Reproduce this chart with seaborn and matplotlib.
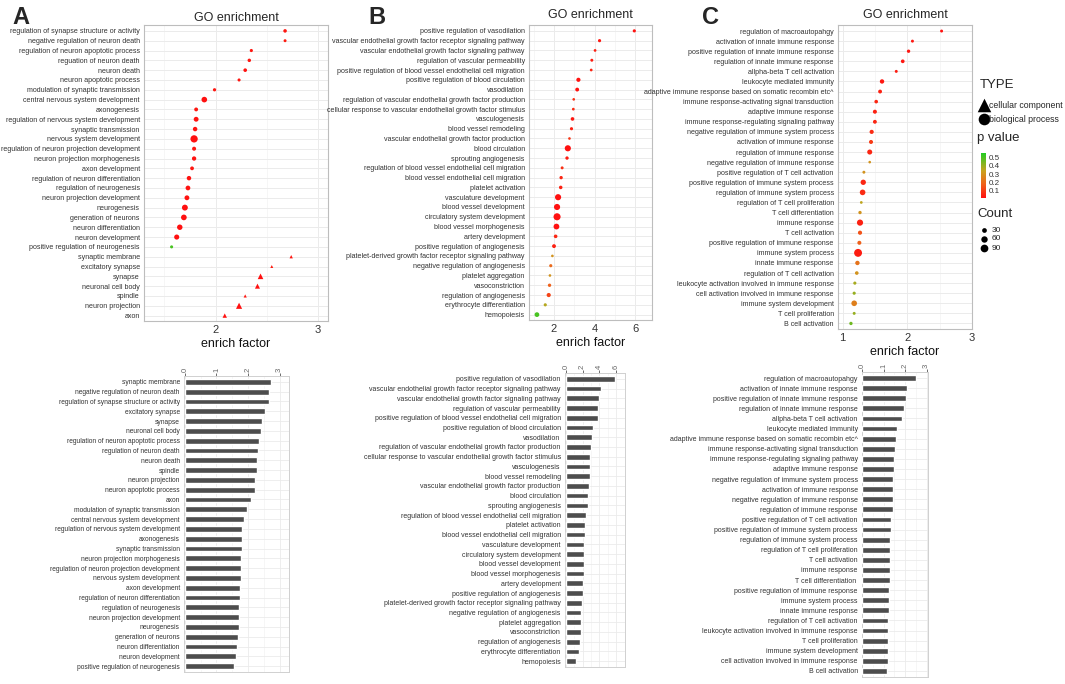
import numpy as np
import pandas as pd
import matplotlib
matplotlib.use("Agg")
import matplotlib.pyplot as plt
from matplotlib import font_manager
from matplotlib.colors import LinearSegmentedColormap, Normalize
from matplotlib.cm import ScalarMappable
import seaborn as sns

# ── panel A: neuro terms ─────────────────────────────────────────────────────
A_terms = [
    "regulation of synapse structure or activity", "negative regulation of neuron death",
    "regulation of neuron apoptotic process", "reguation of neuron death", "neuron death",
    "neuron apoptotic process", "modulation of synaptic transmission",
    "central nervous system development", "axonogenesis",
    "regulation of nervous system development", "synaptic transmission",
    "nervous system development", "regulation of neuron projection development",
    "neuron projection morphogenesis", "axon development",
    "regulation of neuron differentiation", "regulation of neurogenesis",
    "neuron projection development", "neurogenesis", "generation of neurons",
    "neuron differentiation", "neuron development", "positive regulation of neurogenesis",
    "synaptic membrane", "excitatory synapse", "synapse", "neuronal cell body", "spindle",
    "neuron projection", "axon"]
A_factor = [2.68, 2.68, 2.35, 2.33, 2.29, 2.23, 1.99, 1.89, 1.81, 1.81, 1.80, 1.79, 1.79,
            1.79, 1.77, 1.74, 1.73, 1.72, 1.70, 1.69, 1.65, 1.62, 1.57, 2.74, 2.55, 2.44,
            2.41, 2.29, 2.23, 2.09]
A_count = [14, 8, 10, 13, 15, 9, 11, 45, 18, 32, 26, 80, 20, 24, 17, 26, 30, 32, 50, 46,
           42, 36, 9, 12, 8, 45, 35, 10, 55, 25]
A_pvalue = [0.03, 0.04, 0.03, 0.03, 0.02, 0.03, 0.03, 0.01, 0.03, 0.02, 0.02, 0.01, 0.03,
            0.02, 0.03, 0.02, 0.02, 0.02, 0.01, 0.01, 0.01, 0.01, 0.50, 0.03, 0.04, 0.01,
            0.01, 0.03, 0.01, 0.02]
A_type = ["biological process"] * 23 + ["cellular component"] * 7

A_bar_terms = [
    "synaptic membrane", "negative regulation of neuron death",
    "regulation of synapse structure or activity", "excitatory synapse", "synapse",
    "neuronal cell body", "regulation of neuron apoptotic process",
    "regulation of neuron death", "neuron death", "spindle", "neuron projection",
    "neuron apoptotic process", "axon", "modulation of synaptic transmission",
    "central nervous system development", "regulation of nervous system development",
    "axonogenesis", "synaptic transmission", "neuron projection morphogenesis",
    "regulation of neuron projection development", "nervous system development",
    "axon development", "regulation of neuron differentiation", "regulation of neurogenesis",
    "neuron projection development", "neurogenesis", "generation of neurons",
    "neuron differentiation", "neuron development", "positive regulation of neurogenesis"]
A_bar_values = [2.74, 2.68, 2.68, 2.55, 2.44, 2.41, 2.35, 2.32, 2.28, 2.28, 2.22, 2.22,
                2.08, 1.98, 1.87, 1.81, 1.81, 1.80, 1.79, 1.78, 1.78, 1.76, 1.74, 1.72,
                1.71, 1.70, 1.69, 1.65, 1.62, 1.56]

# ── panel B: vascular terms ──────────────────────────────────────────────────
B_terms = [
    "positive regulation of vasodilation",
    "vascular endothelial growth factor receptor signaling pathway",
    "vascular endothelial growth factor signaling pathway",
    "regulation of vascular permeability",
    "positive regulation of blood vessel endothelial cell migration",
    "positive regulation of blood circulation", "vasodilation",
    "regulation of vascular endothelial growth factor production",
    "cellular response to vascular endothelial growth factor stimulus",
    "vasculogenesis", "blood vessel remodeling",
    "vascular endothelial growth factor production", "blood circulation",
    "sprouting angiogenesis", "regulation of blood vessel endothelial cell migration",
    "blood vessel endothelial cell migration", "platelet activation",
    "vasculature development", "blood vessel development", "circulatory system development",
    "blood vessel morphogenesis", "artery development", "positive regulation of angiogenesis",
    "platelet-derived growth factor receptor signaling pathway",
    "negative regulation of angiogenesis", "platelet aggregation", "vasoconstriction",
    "regulation of angiogenesis", "erythrocyte differentiation", "hemopoiesis"]
B_factor = [5.95, 4.24, 4.02, 3.86, 3.83, 3.20, 3.14, 2.97, 2.95, 2.91, 2.86, 2.76, 2.68,
            2.64, 2.40, 2.35, 2.33, 2.20, 2.15, 2.15, 2.12, 2.08, 2.00, 1.92, 1.84, 1.80,
            1.78, 1.74, 1.57, 1.16]
B_count = [10, 10, 6, 8, 6, 22, 18, 5, 6, 15, 10, 5, 55, 12, 8, 12, 14, 55, 55, 75, 48,
           15, 18, 5, 10, 5, 12, 22, 10, 30]
B_pvalue = [0.02, 0.03, 0.05, 0.04, 0.06, 0.02, 0.02, 0.08, 0.07, 0.03, 0.05, 0.09, 0.01,
            0.04, 0.08, 0.06, 0.05, 0.01, 0.01, 0.01, 0.01, 0.06, 0.05, 0.30, 0.20, 0.30,
            0.18, 0.12, 0.36, 0.50]
B_type = ["biological process"] * 30

B_bar_terms = B_terms[:15] + ["platelet activation", "blood vessel endothelial cell migration",
                              "vasculature development", "circulatory system development",
                              "blood vessel development"] + B_terms[20:]
B_bar_values = [5.95, 4.24, 4.02, 3.86, 3.83, 3.20, 3.14, 2.97, 2.95, 2.91, 2.86, 2.76,
                2.68, 2.64, 2.40, 2.33, 2.35, 2.20, 2.15, 2.15, 2.12, 2.08, 2.00, 1.92,
                1.84, 1.80, 1.78, 1.74, 1.57, 1.16]

# ── panel C: immune terms ────────────────────────────────────────────────────
C_terms = [
    "regulation of macroautopahgy", "activation of innate immune response",
    "positive regulation of innate immune response", "regulation of innate immune response",
    "allpha-beta T cell activation", "leukocyte mediated immunity",
    "adaptive immune response based on somatic recombin etc^",
    "immune response-activating signal transduction", "adaptive immune response",
    "immune response-regulating signaling pathway",
    "negative regulation of immune system process", "activation of immune response",
    "regulation of immune response", "negative regulation of immune response",
    "positive regulation of T cell activation", "positive regulation of immune system process",
    "regulation of immune system process", "regulation of T cell proliferation",
    "T cell differentiation", "immune response", "T cell activation",
    "positive regulation of immune response", "immune system process",
    "innate immune response", "regulation of T cell activation",
    "leukocyte activation involved in immune response",
    "cell activation involved in immune response", "immune system development",
    "T cell proliferation", "B cell activation"]
C_factor = [2.53, 2.08, 2.02, 1.93, 1.83, 1.61, 1.58, 1.52, 1.50, 1.50, 1.45, 1.44, 1.42,
            1.42, 1.33, 1.32, 1.31, 1.29, 1.27, 1.27, 1.27, 1.26, 1.24, 1.23, 1.22, 1.19,
            1.18, 1.18, 1.18, 1.13]
C_count = [8, 8, 12, 16, 8, 25, 18, 15, 20, 18, 22, 20, 35, 5, 8, 40, 45, 6, 12, 55, 22,
           20, 95, 25, 15, 10, 10, 45, 8, 12]
C_pvalue = [0.02, 0.03, 0.03, 0.03, 0.04, 0.03, 0.05, 0.06, 0.05, 0.06, 0.07, 0.10, 0.06,
            0.30, 0.30, 0.06, 0.07, 0.35, 0.30, 0.05, 0.15, 0.18, 0.04, 0.22, 0.30, 0.38,
            0.40, 0.25, 0.40, 0.45]
C_type = ["biological process"] * 30

C_bar_terms = [
    "regulation of macroautopahgy", "activation of innate immune response",
    "positive regulation of innate immune response", "regulation of innate immune response",
    "allpha-beta T cell activation", "leukocyte mediated immunity",
    "adaptive immune response based on somatic recombin etc^",
    "immune response-activating signal transduction",
    "immune response-regulating signaling pathway", "adaptive immune response",
    "negative regulation of immune system process", "activation of immune response",
    "negative regulation of immune response", "regulation of immune response",
    "positive regulation of T cell activation", "positive regulation of immune system process",
    "regulation of immune system process", "regulation of T cell proliferation",
    "T cell activation", "immune response", "T cell differentiation ",
    "positive regulation of immune response", "immune system process",
    "innate immune response", "regulation of T cell activation",
    "leukocyte activation involved in immune response", "T cell proliferation",
    "immune system development", "cell activation involved in immune response",
    "B cell activation"]
C_bar_values = [2.53, 2.08, 2.02, 1.93, 1.83, 1.61, 1.58, 1.52, 1.50, 1.50, 1.45, 1.44,
                1.42, 1.42, 1.33, 1.32, 1.31, 1.29, 1.27, 1.27, 1.27, 1.26, 1.24, 1.23,
                1.22, 1.19, 1.18, 1.18, 1.18, 1.13]

# legend values
pvalue_ticks = [0.1, 0.2, 0.3, 0.4, 0.5]
count_legend = [30, 60, 90]

# ── style ────────────────────────────────────────────────────────────────────
sns.set_style("white")
installed = {f.name for f in font_manager.fontManager.ttflist}
NARROW = "Liberation Sans Narrow" if "Liberation Sans Narrow" in installed else "Liberation Sans"
plt.rcParams["font.family"] = ["Liberation Sans", "DejaVu Sans"]

W, H = 1065, 684
def rect(l, t, r, b):
    return [l / W, 1 - b / H, (r - l) / W, (b - t) / H]

CMAP = LinearSegmentedColormap.from_list(
    "pv", [(0, "#ff1010"), (0.3, "#f0601a"), (0.6, "#c9a21f"), (1, "#22cc22")])
NORM = Normalize(0.015, 0.55)
SIZES, SIZE_NORM = (2, 34), (0, 100)
MARKERS = {"biological process": "o", "cellular component": "^"}
GRID = "#ebebeb"
TXT = "#333333"

def count_to_s(c):
    return SIZES[0] + (c - SIZE_NORM[0]) / (SIZE_NORM[1] - SIZE_NORM[0]) * (SIZES[1] - SIZES[0])

fig = plt.figure(figsize=(W / 100, H / 100), dpi=100)

def dot_panel(box, terms, factor, count, pvalue, types, xlim, major, minor, tpad):
    ax = fig.add_axes(rect(*box))
    df = pd.DataFrame({"term": terms, "factor": factor, "count": count,
                       "p": pvalue, "type": types})
    sns.scatterplot(data=df, x="factor", y="term", hue="p", palette=CMAP, hue_norm=NORM,
                    size="count", sizes=SIZES, size_norm=SIZE_NORM, style="type",
                    markers=MARKERS, linewidth=0, legend=False, ax=ax, zorder=3)
    ax.set_ylim(len(terms) - 0.45, -0.6)
    ax.set_xlim(*xlim)
    ax.set_xticks(major)
    ax.set_xticks(minor, minor=True)
    ax.grid(True, which="major", color=GRID, lw=0.7)
    ax.grid(True, which="minor", axis="x", color="#f3f3f3", lw=0.5)
    ax.set_axisbelow(True)
    for s in ax.spines.values():
        s.set_color("#bdbdbd"); s.set_linewidth(0.8)
    ax.tick_params(axis="y", labelsize=5.1, length=2, width=0.5, color=TXT,
                   labelcolor=TXT, pad=1)
    ax.tick_params(axis="x", labelsize=8, length=2, width=0.5, color=TXT,
                   labelcolor=TXT, pad=1)
    ax.tick_params(which="minor", length=0)
    for t in ax.get_yticklabels():
        t.set_fontfamily(NARROW)
    ax.set_ylabel("")
    ax.set_xlabel("enrich factor", fontsize=9, color="#111111", labelpad=2)
    ax.set_title("GO enrichment", fontsize=9, pad=tpad)
    return ax

def bar_panel(box, terms, values, xlim, major, minor, lsize):
    ax = fig.add_axes(rect(*box))
    sns.barplot(x=values, y=terms, orient="h", color="#4d4d4d", width=0.58,
                saturation=1, ax=ax, zorder=3)
    ax.set_ylim(len(terms) - 0.4, -0.6)
    ax.set_xlim(*xlim)
    ax.xaxis.tick_top()
    ax.set_xticks(major)
    ax.set_xticks(minor, minor=True)
    ax.set_xticklabels([str(v) for v in major], rotation=90)
    ax.grid(True, which="major", color=GRID, lw=0.6)
    ax.grid(True, which="minor", axis="x", color="#f3f3f3", lw=0.5)
    ax.set_axisbelow(True)
    for s in ax.spines.values():
        s.set_color("#d0d0d0"); s.set_linewidth(0.7)
    ax.tick_params(axis="y", labelsize=lsize, length=2, width=0.5, color=TXT,
                   labelcolor=TXT, pad=1)
    ax.tick_params(axis="x", labelsize=5.5, length=2, width=0.5, color=TXT,
                   labelcolor="#666666", pad=1)
    ax.tick_params(which="minor", length=0)
    for t in ax.get_yticklabels():
        t.set_fontfamily(NARROW)
    ax.set_xlabel(""); ax.set_ylabel("")
    return ax

dot_panel((144, 25, 328, 321), A_terms, A_factor, A_count, A_pvalue, A_type,
          (1.3, 3.1), [2, 3], [1.5, 2.5], 3)
dot_panel((529, 25, 652, 320), B_terms, B_factor, B_count, B_pvalue, B_type,
          (0.77, 6.82), [2, 4, 6], [1, 3, 5], 5)
dot_panel((838, 25, 972, 329), C_terms, C_factor, C_count, C_pvalue, C_type,
          (0.93, 3.0), [1, 2, 3], [1.5, 2.5], 5)

bar_panel((184, 376, 289, 672), A_bar_terms, A_bar_values, (-0.03, 3.3),
          [0, 1, 2, 3], [0.5, 1.5, 2.5], 4.75)
bar_panel((565, 373, 625, 667), B_bar_terms, B_bar_values, (-0.1, 7.1),
          [0, 2, 4, 6], [1, 3, 5], 5.05)
bar_panel((862, 372, 928, 677), C_bar_terms, C_bar_values, (-0.02, 3.07),
          [0, 1, 2, 3], [0.5, 1.5, 2.5], 5.0)

# panel letters
for x, letter in [(12, "A"), (368, "B"), (702, "C")]:
    fig.text(x / W, 1 - 17 / H, letter, fontsize=17, fontweight="bold",
             fontfamily="Liberation Sans", va="center", ha="left")

# ── legend (right of C) ──────────────────────────────────────────────────────
lg = fig.add_axes(rect(972, 70, 1065, 270))
lg.set_xlim(972, 1065); lg.set_ylim(270, 70); lg.axis("off")
lg.text(980, 85, "TYPE", fontsize=9.5, va="center", ha="left")
lg.scatter([984], [105], marker="^", s=95, color="black", lw=0)
lg.text(989, 105, "cellular component", fontsize=6.3, va="center", ha="left",
        fontfamily=NARROW)
lg.scatter([984], [119], marker="o", s=70, color="black", lw=0)
lg.text(989, 119, "biological process", fontsize=6.3, va="center", ha="left",
        fontfamily=NARROW)
lg.text(977, 138, "p value", fontsize=9.5, va="center", ha="left")
lg.text(977, 214, "Count", fontsize=9.5, va="center", ha="left")
for c, y in zip(count_legend, [230, 239, 248]):
    lg.scatter([984], [y], marker="o", s=count_to_s(c), color="black", lw=0)
    lg.text(992, y, str(c), fontsize=6, va="center", ha="left", fontfamily=NARROW)

cax = fig.add_axes(rect(980.5, 153, 985.5, 198))
cb = fig.colorbar(ScalarMappable(norm=NORM, cmap=CMAP), cax=cax)
cb.outline.set_visible(False)
cb.set_ticks(pvalue_ticks)
cb.ax.tick_params(labelsize=5.8, length=0, pad=2, labelcolor=TXT)
for t in cb.ax.get_yticklabels():
    t.set_fontfamily(NARROW)

fig.savefig("out.png", dpi=100)
